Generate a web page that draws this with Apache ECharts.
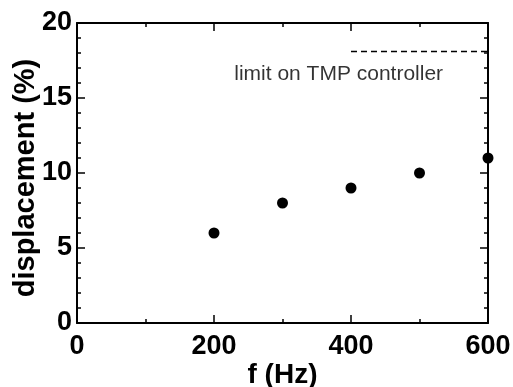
<!DOCTYPE html>
<html>
<head>
<meta charset="utf-8">
<script src="https://cdn.jsdelivr.net/npm/echarts@6/dist/echarts.min.js"></script>
<style>
  html, body { margin: 0; padding: 0; background: #fff; }
  #chart { width: 513px; height: 387px; }
</style>
</head>
<body>
<div id="chart"></div>
<script>
// measured points
var freq = [200, 300, 400, 500, 600];
var displacement = [6, 8, 9, 10, 11];

// limit line of the TMP controller
var limitX = [400, 600];
var limitY = [18.1, 18.1];
var limitText = 'limit on TMP controller';
var limitTextPos = [382, 16.6];

var xTicks = [0, 200, 400, 600];
var yTicks = [0, 5, 10, 15, 20];

var font = 'Liberation Sans, Arial, Helvetica, sans-serif';

function axisBase(extra) {
  var a = {
    axisLine: { show: true, onZero: false, lineStyle: { color: '#000', width: 2 } },
    axisTick: { show: true, inside: true, length: 8, lineStyle: { color: '#000', width: 1.5 } },
    splitLine: { show: false },
    nameMoveOverlap: false
  };
  return Object.assign(a, extra);
}

var labelStyle = {
  color: '#000',
  fontFamily: font,
  fontWeight: 'bold',
  fontSize: 27,
  showMinLabel: true,
  showMaxLabel: true
};

var chart = echarts.init(document.getElementById('chart'), null, { renderer: 'canvas' });

chart.setOption({
  animation: false,
  backgroundColor: '#fff',
  grid: { left: 77, right: 25, top: 23, bottom: 64, containLabel: false, outerBoundsMode: 'none' },
  xAxis: [
    axisBase({
      type: 'value',
      position: 'bottom',
      min: xTicks[0],
      max: xTicks[xTicks.length - 1],
      interval: xTicks[1] - xTicks[0],
      minorTick: { show: true, splitNumber: 2, length: 4, lineStyle: { color: '#000', width: 1.5 } },
      axisLabel: Object.assign({ margin: 10 }, labelStyle),
      name: 'f (Hz)',
      nameLocation: 'middle',
      nameGap: 38,
      nameTextStyle: { color: '#000', fontFamily: font, fontWeight: 'bold', fontSize: 28 }
    }),
    axisBase({
      type: 'value',
      position: 'top',
      min: xTicks[0],
      max: xTicks[xTicks.length - 1],
      interval: xTicks[1] - xTicks[0],
      minorTick: { show: true, splitNumber: 2, length: 4, lineStyle: { color: '#000', width: 1.5 } },
      axisLabel: { show: false }
    })
  ],
  yAxis: [
    axisBase({
      type: 'value',
      position: 'left',
      min: yTicks[0],
      max: yTicks[yTicks.length - 1],
      interval: yTicks[1] - yTicks[0],
      minorTick: { show: true, splitNumber: 5, length: 4, lineStyle: { color: '#000', width: 1.5 } },
      axisLabel: Object.assign({ margin: 5 }, labelStyle),
      name: 'displacement (%)',
      nameLocation: 'middle',
      nameGap: 37,
      nameTextStyle: { color: '#000', fontFamily: font, fontWeight: 'bold', fontSize: 29, padding: [0, 10, 0, 0] }
    }),
    axisBase({
      type: 'value',
      position: 'right',
      min: yTicks[0],
      max: yTicks[yTicks.length - 1],
      interval: yTicks[1] - yTicks[0],
      minorTick: { show: true, splitNumber: 5, length: 4, lineStyle: { color: '#000', width: 1.5 } },
      axisLabel: { show: false }
    })
  ],
  series: [
    {
      type: 'scatter',
      data: freq.map((f, i) => [f, displacement[i]]),
      symbol: 'circle',
      symbolSize: 11,
      itemStyle: { color: '#000', opacity: 1 },
      z: 5
    },
    {
      type: 'line',
      data: limitX.map((x, i) => [x, limitY[i]]),
      symbol: 'none',
      lineStyle: { color: '#000', width: 1.5, type: [6, 4] }
    },
    {
      type: 'scatter',
      data: [limitTextPos],
      symbolSize: 0,
      label: {
        show: true,
        position: 'inside',
        formatter: limitText,
        color: '#000',
        textBorderWidth: 0,
        fontFamily: font,
        fontSize: 21
      }
    }
  ]
});
</script>
</body>
</html>
